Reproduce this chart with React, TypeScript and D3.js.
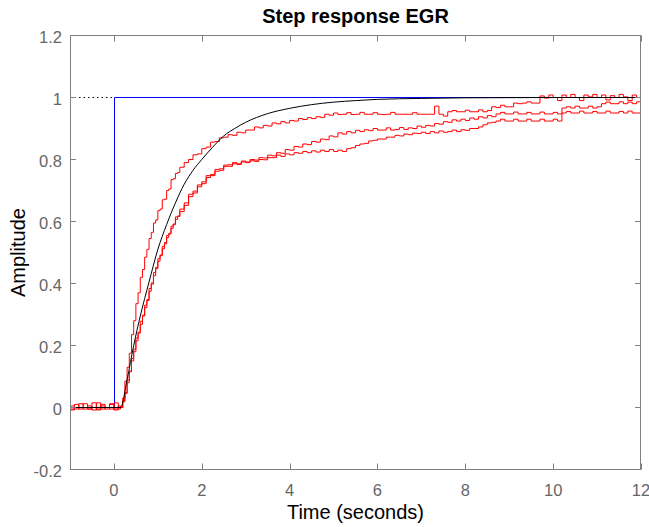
import React from "react";
import * as d3 from "d3";

// sample instants of the measured (red) responses: coarse before the step,
// finer during the rise, then 0.1 s up to the end of the window
const redTimes = [
  ...d3.range(-1, 0.15, 0.1),
  ...d3.range(0.15, 1.52, 0.05),
  ...d3.range(1.6, 12.05, 0.1),
];

// measured response 1 (fastest)
const redA = [
  -0.005, 0.01, -0.005, 0, -0.005, 0.015, -0.005, 0.005, -0.005, 0.01, -0.005, 0,
  0, 0.03, 0.085, 0.13, 0.175, 0.235, 0.28, 0.335, 0.37, 0.42, 0.445, 0.485, 0.51, 0.545,
  0.565, 0.595, 0.605, 0.635, 0.64, 0.67, 0.672, 0.7, 0.705, 0.735, 0.738, 0.755, 0.758, 0.775,
  0.79, 0.8, 0.815, 0.818, 0.835, 0.84, 0.856, 0.858, 0.87, 0.872,
  0.88, 0.878, 0.888, 0.886, 0.895, 0.895, 0.905, 0.902, 0.91, 0.908,
  0.918, 0.915, 0.922, 0.918, 0.926, 0.924, 0.932, 0.929, 0.935, 0.932,
  0.938, 0.936, 0.946, 0.943, 0.95, 0.945, 0.946, 0.951, 0.945, 0.946,
  0.952, 0.946, 0.946, 0.951, 0.946, 0.945, 0.946, 0.952, 0.946, 0.946,
  0.946, 0.946, 0.951, 0.946, 0.946, 0.946, 0.946, 0.972, 0.946, 0.94,
  0.954, 0.958, 0.954, 0.954, 0.959, 0.954, 0.954, 0.96, 0.954, 0.958,
  0.97, 0.968, 0.975, 0.97, 0.97, 0.982, 0.98, 0.982, 0.986, 0.982,
  0.982, 1.005, 0.998, 1.008, 1.0, 0.99, 1.008, 1.0, 1.01, 1.0,
  0.99, 1.008, 1.002, 1.01, 1.0, 1.008, 0.992, 1.006, 1.0, 1.01,
  1.002, 0.99, 1.008, 1.0, 1.008,
];

// measured response 2
const redB = [
  0.005, -0.005, 0, 0.012, -0.005, 0, -0.008, 0.01, 0, -0.005, 0.015, -0.005,
  0, 0.022, 0.048, 0.088, 0.118, 0.158, 0.188, 0.224, 0.243, 0.278, 0.298, 0.33, 0.348, 0.384,
  0.402, 0.435, 0.452, 0.48, 0.492, 0.52, 0.532, 0.555, 0.562, 0.585, 0.592, 0.615, 0.618, 0.64,
  0.66, 0.688, 0.698, 0.718, 0.728, 0.748, 0.752, 0.768, 0.77, 0.782,
  0.783, 0.79, 0.786, 0.795, 0.792, 0.8, 0.798, 0.806, 0.805, 0.814,
  0.812, 0.822, 0.82, 0.832, 0.83, 0.842, 0.84, 0.85, 0.848, 0.858,
  0.856, 0.866, 0.864, 0.876, 0.873, 0.886, 0.882, 0.89, 0.886, 0.894,
  0.89, 0.896, 0.893, 0.9, 0.895, 0.895, 0.902, 0.895, 0.897, 0.903,
  0.897, 0.902, 0.9, 0.908, 0.904, 0.91, 0.908, 0.916, 0.914, 0.922,
  0.92, 0.928, 0.924, 0.93, 0.926, 0.934, 0.93, 0.938, 0.934, 0.942,
  0.938, 0.947, 0.952, 0.947, 0.947, 0.953, 0.947, 0.947, 0.952, 0.947,
  0.947, 0.953, 0.947, 0.947, 0.952, 0.947, 0.966, 0.97, 0.966, 0.972,
  0.966, 0.966, 0.972, 0.966, 0.97, 0.98, 0.985, 0.98, 0.98, 0.986,
  0.98, 0.985, 0.98, 0.986, 0.982,
];

// measured response 3 (slowest)
const redC = [
  -0.008, 0, 0.012, -0.005, 0.005, -0.008, 0.015, -0.005, 0, 0.012, -0.008, 0.005,
  0, 0.018, 0.045, 0.08, 0.115, 0.15, 0.18, 0.215, 0.24, 0.268, 0.295, 0.322, 0.345, 0.375,
  0.398, 0.425, 0.448, 0.472, 0.49, 0.512, 0.528, 0.548, 0.56, 0.578, 0.59, 0.607, 0.616, 0.632,
  0.652, 0.68, 0.692, 0.712, 0.722, 0.742, 0.748, 0.762, 0.765, 0.778,
  0.778, 0.786, 0.784, 0.792, 0.79, 0.796, 0.794, 0.8, 0.799, 0.806,
  0.806, 0.814, 0.81, 0.818, 0.815, 0.822, 0.82, 0.826, 0.822, 0.828,
  0.824, 0.83, 0.826, 0.832, 0.826, 0.83, 0.826, 0.835, 0.838, 0.845,
  0.85, 0.852, 0.86, 0.862, 0.866, 0.866, 0.872, 0.872, 0.878, 0.876,
  0.882, 0.88, 0.885, 0.884, 0.888, 0.884, 0.89, 0.886, 0.892, 0.888,
  0.89, 0.895, 0.89, 0.896, 0.894, 0.9, 0.9, 0.905, 0.912, 0.918,
  0.92, 0.924, 0.93, 0.924, 0.924, 0.93, 0.924, 0.924, 0.93, 0.924,
  0.924, 0.93, 0.924, 0.924, 0.93, 0.924, 0.95, 0.955, 0.95, 0.95,
  0.956, 0.95, 0.95, 0.955, 0.95, 0.95, 0.956, 0.95, 0.95, 0.955,
  0.95, 0.956, 0.95, 0.95, 0.955,
];

// model step response (black)
const modelTimes = [-1, 0.15, 0.3, 0.45, 0.6, 0.8, 1.0, 1.2, 1.4, 1.6, 1.8, 2.0, 2.25, 2.5, 2.75, 3.0, 3.5, 4.0, 4.5, 5.0, 5.5, 6.0, 7.0, 8.0, 10.0, 12.0];
const modelValues = [0, 0, 0.09, 0.2, 0.295, 0.405, 0.51, 0.59, 0.66, 0.72, 0.765, 0.8, 0.84, 0.876, 0.9, 0.92, 0.948, 0.965, 0.977, 0.985, 0.99, 0.994, 0.997, 0.999, 1.0, 1.0];

// input step (blue)
const stepTimes = [-1, 0, 0, 12];
const stepValues = [0, 0, 1, 1];

const xTicks = [0, 2, 4, 6, 8, 10, 12];
const yTicks = [-0.2, 0, 0.2, 0.4, 0.6, 0.8, 1, 1.2];

const W = 649;
const H = 527;
const axisColor = "#808080";
const labelColor = "#666666";
const font = "'Liberation Sans', Arial, Helvetica, sans-serif";

export default function App() {
  const x = d3.scaleLinear().domain([-1, 12]).range([70, 641]);
  const y = d3.scaleLinear().domain([-0.2, 1.2]).range([469.5, 35.5]);

  const left = x(-1);
  const right = x(12);
  const top = y(1.2);
  const bottom = y(-0.2);

  const redLine = d3
    .line<number>()
    .x((_, i) => x(redTimes[i]))
    .y((d) => y(d))
    .curve(d3.curveStepAfter);

  const modelLine = d3
    .line<number>()
    .x((_, i) => x(modelTimes[i]))
    .y((d) => y(d))
    .curve(d3.curveMonotoneX);

  const stepLine = d3
    .line<number>()
    .x((_, i) => Math.round(x(stepTimes[i])) + 0.5)
    .y((d) => y(d));

  const n = redTimes.length;
  const px = (v: number) => Math.round(v) + 0.5;

  return (
    <svg
      width={W}
      height={H}
      style={{ position: "absolute", left: 0, top: 0, background: "#fff" }}
      fontFamily={font}
    >
      <defs>
        <clipPath id="plotArea">
          <rect x={left} y={top - 0.5} width={right - left} height={bottom - top + 1} />
        </clipPath>
      </defs>

      <g clipPath="url(#plotArea)" fill="none">
        <line
          x1={left}
          x2={x(0)}
          y1={y(1)}
          y2={y(1)}
          stroke="#000"
          strokeWidth={1}
          strokeDasharray="1.5,3"
        />
        <path d={stepLine(stepValues) || ""} stroke="#0000ff" strokeWidth={1} />
        <path d={redLine(redA.slice(0, n)) || ""} stroke="#ff0000" strokeWidth={1} />
        <path d={redLine(redB.slice(0, n)) || ""} stroke="#ff0000" strokeWidth={1} />
        <path d={redLine(redC.slice(0, n)) || ""} stroke="#ff0000" strokeWidth={1} />
        <path d={modelLine(modelValues) || ""} stroke="#000" strokeWidth={1} />
      </g>

      {/* box */}
      <rect
        x={px(left)}
        y={top}
        width={px(right) - px(left) - 1}
        height={bottom - top}
        fill="none"
        stroke={axisColor}
        strokeWidth={1}
      />

      {/* ticks, inward on all four sides */}
      {xTicks.map((t) => (
        <g key={"xt" + t} stroke={axisColor}>
          <line x1={px(x(t))} x2={px(x(t))} y1={bottom} y2={bottom - 6} />
          <line x1={px(x(t))} x2={px(x(t))} y1={top} y2={top + 6} />
        </g>
      ))}
      {yTicks.map((t) => (
        <g key={"yt" + t} stroke={axisColor}>
          <line x1={left} x2={left + 6} y1={y(t)} y2={y(t)} />
          <line x1={right} x2={right - 6} y1={y(t)} y2={y(t)} />
        </g>
      ))}

      {/* tick labels */}
      {xTicks.map((t) => (
        <text key={"xl" + t} x={x(t)} y={496} textAnchor="middle" fontSize={16.5} fill={labelColor}>
          {t}
        </text>
      ))}
      {yTicks.map((t) => (
        <text key={"yl" + t} x={62} y={y(t) + 7} textAnchor="end" fontSize={16.5} fill={labelColor}>
          {t}
        </text>
      ))}

      {/* labels */}
      <text x={(left + right) / 2} y={23} textAnchor="middle" fontSize={20} fontWeight="bold" fill="#000">
        Step response EGR
      </text>
      <text x={(left + right) / 2} y={519} textAnchor="middle" fontSize={20} fill="#000">
        Time (seconds)
      </text>
      <text
        transform={`translate(25, ${(top + bottom) / 2}) rotate(-90)`}
        textAnchor="middle"
        fontSize={20}
        fill="#000"
      >
        Amplitude
      </text>
    </svg>
  );
}
